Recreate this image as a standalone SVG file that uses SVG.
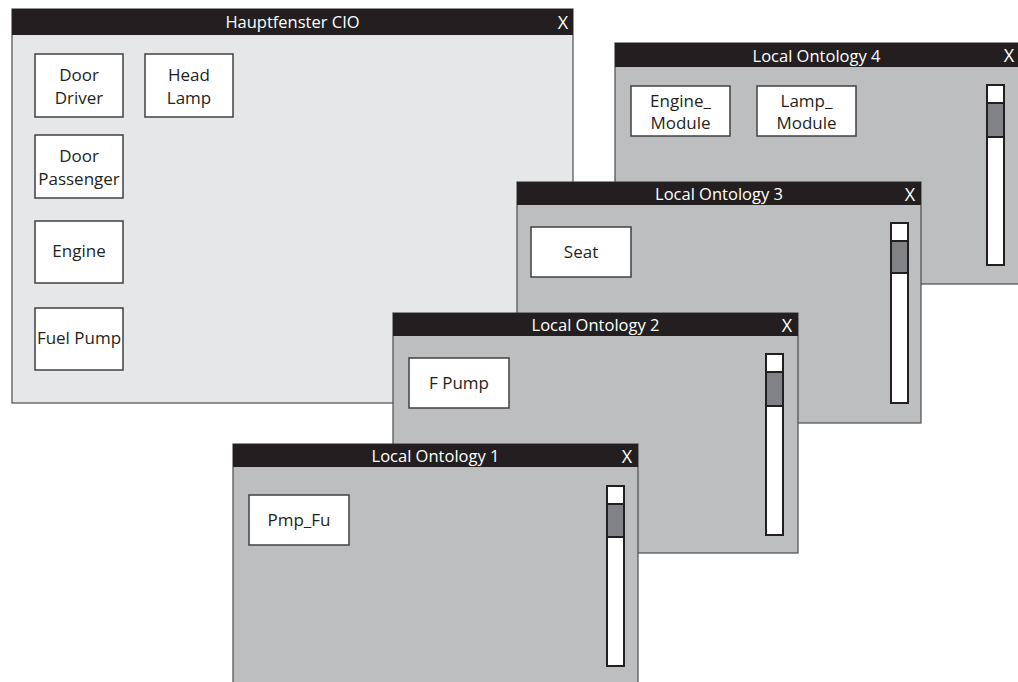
<svg xmlns="http://www.w3.org/2000/svg" width="1018" height="682" viewBox="0 0 1018 682">
  <style>
    .frame-main { fill: #e6e7e8; stroke: #4d4d4f; stroke-width: 1.2; }
    .frame-local { fill: #bcbec0; stroke: #4d4d4f; stroke-width: 1.2; }
    .titlebar { fill: #231f20; }
    .title { font-family: "Open Sans", "Liberation Sans", sans-serif; font-size: 16.5px; fill: #ffffff; text-anchor: middle; }
    .close { font-family: "Open Sans", "Liberation Sans", sans-serif; font-size: 18px; fill: #ffffff; text-anchor: middle; }
    .box { fill: #ffffff; stroke: #414042; stroke-width: 1.5; }
    .label { font-family: "Open Sans", "Liberation Sans", sans-serif; font-size: 17px; fill: #231f20; text-anchor: middle; }
    .track { fill: #ffffff; stroke: #231f20; stroke-width: 2; }
    .thumb { fill: #808285; stroke: #231f20; stroke-width: 2; }
  </style>

  <!-- Main window -->
  <g id="main-window">
    <rect class="frame-main" x="12" y="9" width="561" height="394"/>
    <rect class="titlebar" x="12" y="9" width="561" height="26"/>
    <text class="title" x="292.5" y="28">Hauptfenster CIO</text>
    <text class="close" x="563" y="29">X</text>
    <g id="door-driver">
      <rect class="box" x="35" y="54" width="88" height="63"/>
      <text class="label" x="79" y="81">Door</text>
      <text class="label" x="79" y="104">Driver</text>
    </g>
    <g id="head-lamp">
      <rect class="box" x="145" y="54" width="88" height="63"/>
      <text class="label" x="189" y="81">Head</text>
      <text class="label" x="189" y="104">Lamp</text>
    </g>
    <g id="door-passenger">
      <rect class="box" x="35" y="135" width="88" height="63"/>
      <text class="label" x="79" y="162">Door</text>
      <text class="label" x="79" y="185">Passenger</text>
    </g>
    <g id="engine">
      <rect class="box" x="35" y="221" width="88" height="62"/>
      <text class="label" x="79" y="257">Engine</text>
    </g>
    <g id="fuel-pump">
      <rect class="box" x="35" y="308" width="88" height="62"/>
      <text class="label" x="79" y="344">Fuel Pump</text>
    </g>
  </g>

  <!-- Local Ontology 4 -->
  <g id="local-ontology-4">
    <rect class="frame-local" x="615" y="43" width="410" height="241"/>
    <rect class="titlebar" x="615" y="43" width="410" height="24"/>
    <text class="title" x="816.5" y="61.5">Local Ontology 4</text>
    <text class="close" x="1009" y="62">X</text>
    <g id="engine-module">
      <rect class="box" x="631" y="86" width="99" height="50"/>
      <text class="label" x="680.5" y="106.5">Engine_</text>
      <text class="label" x="680.5" y="129">Module</text>
    </g>
    <g id="lamp-module">
      <rect class="box" x="757" y="86" width="99" height="50"/>
      <text class="label" x="806.5" y="106.5">Lamp_</text>
      <text class="label" x="806.5" y="129">Module</text>
    </g>
    <rect class="track" x="987" y="85" width="17" height="180"/>
    <rect class="thumb" x="987" y="103" width="17" height="34"/>
  </g>

  <!-- Local Ontology 3 -->
  <g id="local-ontology-3">
    <rect class="frame-local" x="517" y="182" width="404" height="241"/>
    <rect class="titlebar" x="517" y="182" width="404" height="23"/>
    <text class="title" x="719" y="200">Local Ontology 3</text>
    <text class="close" x="910" y="200.5">X</text>
    <g id="seat">
      <rect class="box" x="531" y="227" width="100" height="50"/>
      <text class="label" x="581" y="258">Seat</text>
    </g>
    <rect class="track" x="891" y="223" width="17" height="180"/>
    <rect class="thumb" x="891" y="241" width="17" height="32"/>
  </g>

  <!-- Local Ontology 2 -->
  <g id="local-ontology-2">
    <rect class="frame-local" x="393" y="313" width="405" height="240"/>
    <rect class="titlebar" x="393" y="313" width="405" height="23"/>
    <text class="title" x="595.5" y="331">Local Ontology 2</text>
    <text class="close" x="787" y="331.5">X</text>
    <g id="f-pump">
      <rect class="box" x="409" y="358" width="100" height="50"/>
      <text class="label" x="459" y="389">F Pump</text>
    </g>
    <rect class="track" x="766" y="354" width="17" height="181"/>
    <rect class="thumb" x="766" y="372" width="17" height="34"/>
  </g>

  <!-- Local Ontology 1 -->
  <g id="local-ontology-1">
    <rect class="frame-local" x="233" y="444" width="405" height="260"/>
    <rect class="titlebar" x="233" y="444" width="405" height="23"/>
    <text class="title" x="435.5" y="462">Local Ontology 1</text>
    <text class="close" x="627" y="462.5">X</text>
    <g id="pmp-fu">
      <rect class="box" x="249" y="495" width="100" height="50"/>
      <text class="label" x="299" y="526">Pmp_Fu</text>
    </g>
    <rect class="track" x="607" y="486" width="17" height="180"/>
    <rect class="thumb" x="607" y="504" width="17" height="33"/>
  </g>
</svg>
